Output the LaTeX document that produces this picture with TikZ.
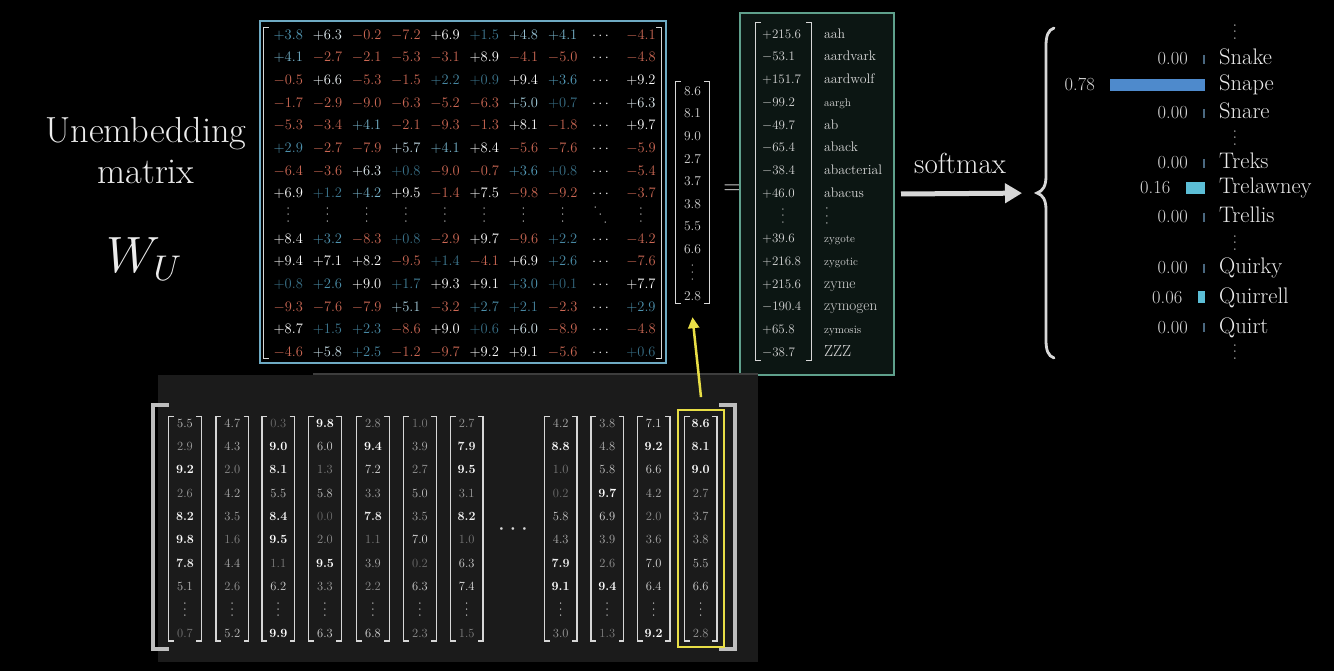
\RequirePackage{fix-cm}
\documentclass[tikz,border=0pt]{standalone}
\usetikzlibrary{arrows.meta}
\definecolor{cblue}{RGB}{88,162,192}
\definecolor{cdark}{RGB}{28,66,84}
\definecolor{cred}{RGB}{204,104,84}
\definecolor{boxblue}{RGB}{110,170,195}
\definecolor{boxgreen}{RGB}{95,160,140}
\definecolor{greenfill}{RGB}{12,22,19}
\definecolor{lgray}{RGB}{215,215,215}
\definecolor{txt}{RGB}{236,236,236}
\definecolor{barblue}{RGB}{78,138,204}
\definecolor{barcyan}{RGB}{92,190,214}
\definecolor{hlyellow}{RGB}{232,222,70}
\definecolor{tickc}{RGB}{74,104,128}
\definecolor{panel}{RGB}{27,27,27}
\definecolor{bigbr}{RGB}{190,190,190}
\newcommand\dts{.\kern0.18em.\kern0.18em.}
\newcommand\ddts{.\kern0.4em.\kern0.4em.}
\newcommand\Pv[1]{\ifdim#1pt<4pt\pgfmathtruncatemacro\tmpt{40+#1*15}\textcolor{cblue!\tmpt!cdark}{$+#1$}\else\pgfmathtruncatemacro\tmpt{min(100,(#1-3.5)*30)}\textcolor{white!\tmpt!cblue}{$+#1$}\fi}
\newcommand\Nv[1]{\textcolor{cred}{$-#1$}}
\def\cellv#1#2\relax{\if#1+\Pv{#2}\else\Nv{#2}\fi}
\newcommand\Bv[1]{\pgfmathtruncatemacro\tmpt{min(100,42+#1*6.5)}\ifdim#1pt>7.4pt\bfseries\fi\textcolor{white!\tmpt!black}{#1}}
\tikzset{
  wcell/.style={inner sep=0pt, text height=9.3pt, text depth=0pt, font=\fontsize{14.5}{16}\selectfont},
  vdts/.style={inner sep=0pt, rotate=90, font=\fontsize{15.5}{16}\selectfont, txt},
  ddts/.style={inner sep=0pt, rotate=-55, font=\fontsize{13}{14}\selectfont, txt},
  vcell/.style={inner sep=0pt, text height=8.6pt, text depth=0pt, font=\fontsize{13.5}{15}\selectfont, lgray},
  bcell/.style={inner sep=0pt, text height=8pt, text depth=0pt, font=\fontsize{12.5}{14}\selectfont},
  rval/.style={inner sep=0pt, anchor=base west, font=\fontsize{13}{15}\selectfont, lgray},
  brk/.style={lgray, line width=1.3pt},
  word/.style={inner sep=0pt, font=\fontsize{22.5}{25}\selectfont, txt},
  pval/.style={inner sep=0pt, font=\fontsize{18.5}{20}\selectfont, lgray},
  tick/.style={tickc, line width=1.5pt},
}
\newcommand\brackets[3][brk]{%
  \draw[#1] ([xshift=#3]#2.north west) -- (#2.north west) -- (#2.south west) -- ([xshift=#3]#2.south west);
  \draw[#1] ([xshift=-#3]#2.north east) -- (#2.north east) -- (#2.south east) -- ([xshift=-#3]#2.south east);}
\begin{document}
\begin{tikzpicture}[x=1pt,y=-1pt]
\fill[black] (0,0) rectangle (1334,671);
\useasboundingbox (0,0) rectangle (1334,671);

% title
\node[anchor=base, inner sep=0pt, txt, font=\fontsize{36.3}{40}\selectfont] (t1) at (146,142.7) {Unembedding};
\node[anchor=base, inner sep=0pt, txt, font=\fontsize{36.3}{40}\selectfont] (t2) at (146,183.3) {matrix};
\node[anchor=base, inner sep=0pt, txt, font=\fontsize{51}{54}\selectfont] (wu) at (144,272.7) {$W_U$};

% W_U matrix
\node[draw=boxblue, line width=2pt, inner sep=0pt, minimum width=406pt, minimum height=342pt] (wbox) at (463,192) {};
\node[inner sep=0pt, minimum width=397pt, minimum height=330pt] (wbr) at (462.5,193) {};
\brackets{wbr}{5pt}
\foreach \rowdata [count=\rr] in {
{+3.8,+6.3,-0.2,-7.2,+6.9,+1.5,+4.8,+4.1,-4.1},
{+4.1,-2.7,-2.1,-5.3,-3.1,+8.9,-4.1,-5.0,-4.8},
{-0.5,+6.6,-5.3,-1.5,+2.2,+0.9,+9.4,+3.6,+9.2},
{-1.7,-2.9,-9.0,-6.3,-5.2,-6.3,+5.0,+0.7,+6.3},
{-5.3,-3.4,+4.1,-2.1,-9.3,-1.3,+8.1,-1.8,+9.7},
{+2.9,-2.7,-7.9,+5.7,+4.1,+8.4,-5.6,-7.6,-5.9},
{-6.4,-3.6,+6.3,+0.8,-9.0,-0.7,+3.6,+0.8,-5.4},
{+6.9,+1.2,+4.2,+9.5,-1.4,+7.5,-9.8,-9.2,-3.7},
{+8.4,+3.2,-8.3,+0.8,-2.9,+9.7,-9.6,+2.2,-4.2},
{+9.4,+7.1,+8.2,-9.5,+1.4,-4.1,+6.9,+2.6,-7.6},
{+0.8,+2.6,+9.0,+1.7,+9.3,+9.1,+3.0,+0.1,+7.7},
{-9.3,-7.6,-7.9,+5.1,-3.2,+2.7,+2.1,-2.3,+2.9},
{+8.7,+1.5,+2.3,-8.6,+9.0,+0.6,+6.0,-8.9,-4.8},
{-4.6,+5.8,+2.5,-1.2,-9.7,+9.2,+9.1,-5.6,+0.6}}
{
  \pgfmathsetmacro\yy{34.7+22.65*ifthenelse(\rr<9,\rr-1,\rr)}
  \foreach \v [count=\cc] in \rowdata {
    \pgfmathsetmacro\xx{ifthenelse(\cc<9,288.3+39.2*(\cc-1),641)}
    \node[wcell] (w-\rr-\cc) at (\xx,\yy) {\expandafter\cellv\v\relax};
  }
  \node[wcell, txt] (wd-\rr) at (600.5,\yy) {$\cdots$};
}
\foreach \cc in {1,...,8} {
  \node[vdts] (wv-\cc) at ({288.3+39.2*(\cc-1)},215) {\dts};
}
\node[vdts] (wv-9) at (641,215) {\dts};
\node[ddts] (wdd) at (600.5,215) {\ddts};

% vector
\node[inner sep=0pt, minimum width=33pt, minimum height=221pt] (vec) at (692.5,192.5) {};
\brackets{vec}{5pt}
\foreach \v [count=\j] in {8.6,8.1,9.0,2.7,3.7,3.8,5.5,6.6} {
  \node[vcell] (v-\j) at (692.5,{91+22.6*(\j-1)}) {\v};
}
\node[vdts, lgray] (v-dots) at (692.5,272.5) {\dts};
\node[vcell] (v-last) at (692.5,296) {2.8};

\node[inner sep=0pt, lgray, font=\fontsize{27}{28}\selectfont] (eq) at (733,190) {$=$};

% result box
\node[draw=boxgreen, fill=greenfill, line width=2pt, inner sep=0pt, minimum width=154pt, minimum height=362pt] (rbox) at (817,194) {};
\node[inner sep=0pt, minimum width=55pt, minimum height=337pt] (rbr) at (783.5,191.5) {};
\brackets{rbr}{5pt}
\foreach \val/\word/\fs [count=\rr] in {+215.6/aah/13.8,-53.1/aardvark/13.8,+151.7/aardwolf/13.8,-99.2/aargh/11.2,-49.7/ab/13.8,-65.4/aback/13.8,-38.4/abacterial/13.8,+46.0/abacus/13.8,+39.6/zygote/11.2,+216.8/zygotic/11.2,+215.6/zyme/15.2,-190.4/zymogen/15.2,+65.8/zymosis/11.2,-38.7/ZZZ/16}
{
  \pgfmathsetmacro\yy{34+22.7*ifthenelse(\rr<9,\rr-1,\rr)+4.3}
  \node[rval] (r-\rr) at (762,\yy) {$\val$};
  \node[inner sep=0pt, anchor=base west, lgray, font=\fontsize{\fs}{\fs}\selectfont] (rw-\rr) at (824,\yy) {\word};
}
\node[vdts, lgray] (r-dots) at (783,216) {\dts};
\node[vdts, lgray, font=\fontsize{16.5}{17}\selectfont] (rw-dots) at (827,216) {\dts};

% softmax arrow and brace
\coordinate (brtip) at (1037,193);
\draw[lgray, line width=5pt, -{Triangle[length=17pt,width=19pt]}, shorten >=15pt] ([xshift=6pt]rbox.east) -- (brtip);
\node[anchor=base, inner sep=0pt, txt, font=\fontsize{29}{32}\selectfont] (smx) at (960,173.3) {softmax};
\draw[lgray, line width=2.8pt, line cap=round]
  (1054,28) .. controls (1048,30) and (1046,36) .. (1046,46) -- (1046,176)
  .. controls (1046,186) and (1043,191) .. (brtip)
  .. controls (1043,195) and (1046,200) .. (1046,210) -- (1046,340)
  .. controls (1046,350) and (1048,356) .. (1054,358);

% probability list
\foreach \w/\bl/\val/\bw/\bc [count=\i] in {Snake/65/0.00/0/tickc,Snape/91/0.78/95/barblue,Snare/119/0.00/0/tickc,Treks/169/0.00/0/tickc,Trelawney/194/0.16/19.5/barcyan,Trellis/223/0.00/0/tickc,Quirky/274/0.00/0/tickc,Quirrell/303/0.06/7.5/barcyan,Quirt/333/0.00/0/tickc}
{
  \node[word, anchor=base west] (sw-\i) at (1219,\bl) {\w};
  \ifdim\bw pt>0pt
    \fill[\bc] (1205-\bw,\bl-12) rectangle (1205,\bl);
    \node[pval, anchor=base east] (sv-\i) at (1205-\bw-15,\bl) {\val};
  \else
    \draw[tick] (1204,\bl-10) -- (1204,\bl-1);
    \node[pval, anchor=base east] (sv-\i) at (1188,\bl) {\val};
  \fi
}
\foreach \yd [count=\i] in {32,138,243,352} {
  \node[vdts, font=\fontsize{14}{15}\selectfont] (sd-\i) at (1235,\yd) {\dts};
}

% bottom panel
\fill[panel] (158,375) rectangle (758,662);
\draw[white!24!black, line width=2pt] (313,373.5) -- (758,373.5);
\node[inner sep=0pt, minimum width=582pt, minimum height=244pt] (big) at (444,527) {};
\brackets[{bigbr, line width=4pt}]{big}{16pt}
\foreach \cx/\vals [count=\k] in {
185/{5.5,2.9,9.2,2.6,8.2,9.8,7.8,5.1,0.7},
232.3/{4.7,4.3,2.0,4.2,3.5,1.6,4.4,2.6,5.2},
278.3/{0.3,9.0,8.1,5.5,8.4,9.5,1.1,6.2,9.9},
325/{9.8,6.0,1.3,5.8,0.0,2.0,9.5,3.3,6.3},
373/{2.8,9.4,7.2,3.3,7.8,1.1,3.9,2.2,6.8},
420/{1.0,3.9,2.7,5.0,3.5,7.0,0.2,6.3,2.3},
466.7/{2.7,7.9,9.5,3.1,8.2,1.0,6.3,7.4,1.5},
560.7/{4.2,8.8,1.0,0.2,5.8,4.3,7.9,9.1,3.0},
607.3/{3.8,4.8,5.8,9.7,6.9,3.9,2.6,9.4,1.3},
653.7/{7.1,9.2,6.6,4.2,2.0,3.6,7.0,6.4,9.2},
700.7/{8.6,8.1,9.0,2.7,3.7,3.8,5.5,6.6,2.8}}
{
  \node[inner sep=0pt, minimum width=32pt, minimum height=224pt] (col-\k) at (\cx,528.7) {};
  \brackets{col-\k}{5pt}
  \foreach \v [count=\j] in \vals {
    \pgfmathsetmacro\yy{ifthenelse(\j<9,423.3+23.3*(\j-1),633.3)}
    \node[bcell] (b-\k-\j) at (\cx,\yy) {\Bv{\v}};
  }
  \node[vdts, font=\fontsize{14}{15}\selectfont, lgray] (bd-\k) at (\cx,609.5) {\dts};
}
\node[inner sep=0pt, lgray, font=\fontsize{26}{28}\selectfont] (bdots) at (513,529.5) {$\cdots$};

% highlight and arrow
\node[draw=hlyellow, line width=1.8pt, inner sep=0pt, minimum width=46pt, minimum height=237pt] (hl) at (701,528.5) {};
\draw[hlyellow, line width=2.5pt, -{Triangle[length=11pt,width=11pt]}] ([yshift=12pt]hl.north) -- ([yshift=-14pt]vec.south);
\end{tikzpicture}
\end{document}
